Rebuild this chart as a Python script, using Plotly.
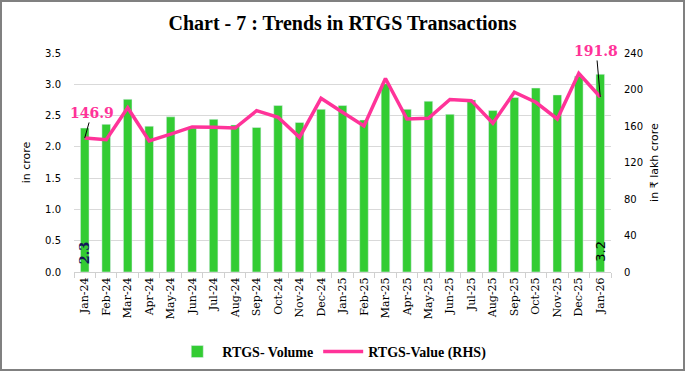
import plotly.graph_objects as go

months = ["Jan-24", "Feb-24", "Mar-24", "Apr-24", "May-24", "Jun-24", "Jul-24", "Aug-24",
          "Sep-24", "Oct-24", "Nov-24", "Dec-24", "Jan-25", "Feb-25", "Mar-25", "Apr-25",
          "May-25", "Jun-25", "Jul-25", "Aug-25", "Sep-25", "Oct-25", "Nov-25", "Dec-25", "Jan-26"]
volume = [2.3, 2.36, 2.76, 2.33, 2.48, 2.30, 2.44, 2.35, 2.31, 2.66, 2.39, 2.60, 2.66,
          2.43, 3.01, 2.60, 2.73, 2.52, 2.75, 2.58, 2.79, 2.94, 2.83, 3.13, 3.16]
value = [146.9, 145.0, 180.0, 143.6, 151.0, 159.0, 158.5, 157.8, 176.8, 169.5, 147.6, 190.3, 175.0,
         160.0, 212.0, 167.7, 168.4, 189.0, 187.8, 163.0, 197.0, 186.0, 167.7, 217.7, 191.8]
left_ticks = [0.0, 0.5, 1.0, 1.5, 2.0, 2.5, 3.0, 3.5]
right_ticks = [0, 40, 80, 120, 160, 200, 240]

W, H = 685, 372
ML, MR, MT, MB = 74, 74, 53, 100
PW, PH = W - ML - MR, H - MT - MB

fig = go.Figure()
fig.add_trace(go.Bar(
    x=months, y=volume, name="RTGS- Volume", marker_color="#33CC33",
))
fig.add_trace(go.Scatter(
    x=months, y=value, name="RTGS-Value (RHS)", yaxis="y2", mode="lines",
    line=dict(color="#FF3399", width=3.5),
))

# rotated data labels for first and last bars
fig.add_annotation(x=months[0], y=0, yref="y", text="<b>%.1f</b>" % volume[0], showarrow=False,
                   textangle=-90, yanchor="bottom", yshift=6,
                   font=dict(family="DejaVu Serif", size=13, color="#14145a"))
fig.add_annotation(x=months[-1], y=0, yref="y", text="%.1f" % volume[-1], showarrow=False,
                   textangle=-90, yanchor="bottom", yshift=8,
                   font=dict(family="DejaVu Sans", size=13, color="black"))

fig.add_annotation(x=months[0], y=value[0], yref="y2", text="<b>%.1f</b>" % value[0],
                   showarrow=True, arrowhead=0, arrowwidth=1, arrowcolor="black",
                   ax=7, ay=-25, font=dict(family="DejaVu Serif", size=14, color="#FF3399"))
fig.add_annotation(x=months[-1], y=value[-1], yref="y2", text="<b>%.1f</b>" % value[-1],
                   showarrow=True, arrowhead=0, arrowwidth=1, arrowcolor="black",
                   ax=-4, ay=-46, font=dict(family="DejaVu Serif", size=14, color="#FF3399"))

fig.add_shape(type="rect", xref="paper", yref="paper",
              x0=(1 - ML) / PW, x1=(W - 1 - ML) / PW,
              y0=(2 - MB) / PH, y1=(H - 1 - MB) / PH,
              line=dict(color="#808080", width=2), layer="above")

fig.update_layout(
    width=W, height=H, margin=dict(l=ML, r=MR, t=MT, b=MB, autoexpand=False),
    paper_bgcolor="white", plot_bgcolor="white",
    title=dict(text="<b>Chart - 7 : Trends in RTGS Transactions</b>", x=0.5, xanchor="center",
               y=1 - 23 / H, yanchor="middle",
               font=dict(family="Liberation Serif", size=20, color="black")),
    bargap=0.6,
    showlegend=True,
    legend=dict(orientation="h", x=0.48, xanchor="center", y=-0.365, yanchor="middle",
                font=dict(family="Liberation Serif", size=14, color="black", weight="bold"),
                itemwidth=40, traceorder="normal"),
    xaxis=dict(range=[-0.5, len(months) - 0.5], autorange=False,
               tickangle=-90, showgrid=False, showline=True, linecolor="#d0d0d0",
               ticks="outside", tickson="boundaries", ticklen=5, tickcolor="#d0d0d0",
               automargin=False,
               tickfont=dict(family="DejaVu Serif", size=11, color="black")),
    yaxis=dict(range=[0, 3.5], tickvals=left_ticks, tickformat=".1f",
               showgrid=True, gridcolor="#d9d9d9", zeroline=False,
               showline=False, ticklabelstandoff=12, automargin=False,
               tickfont=dict(family="DejaVu Sans", size=10, color="black"),
               title=dict(text="in crore", standoff=12,
                          font=dict(family="DejaVu Sans", size=11, color="black"))),
    yaxis2=dict(range=[0, 240], tickvals=right_ticks, overlaying="y", side="right",
                showgrid=False, zeroline=False, showline=False, ticklabelstandoff=12,
                automargin=False,
                tickfont=dict(family="DejaVu Sans", size=10, color="black"),
                title=dict(text="in ₹ lakh crore", standoff=8,
                           font=dict(family="DejaVu Sans", size=11, color="black"))),
)

fig.write_html("out.html", config={"displayModeBar": False},
               post_script="document.body.style.margin='0';")
